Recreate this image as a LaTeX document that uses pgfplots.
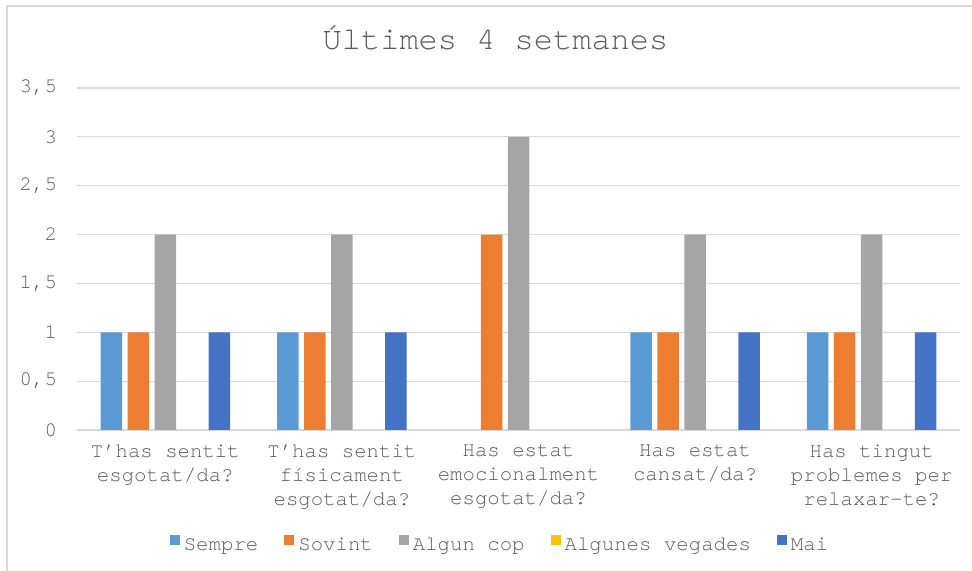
\documentclass[border=0pt]{standalone}
\usepackage{fontspec}
\setmainfont{TeX Gyre Cursor}
\usepackage{pgfplots}
\pgfplotsset{compat=1.18}
\definecolor{cA}{HTML}{5B9BD5}
\definecolor{cB}{HTML}{ED7D31}
\definecolor{cC}{HTML}{A5A5A5}
\definecolor{cD}{HTML}{FFC000}
\definecolor{cE}{HTML}{4472C4}
\definecolor{gridc}{HTML}{D9D9D9}
\definecolor{textc}{HTML}{595959}
\pgfplotsset{sq/.style={legend image code/.code={\fill[##1] (0pt,0.4pt) rectangle (5pt,5.4pt);}}}
\begin{document}
\begin{tikzpicture}
\begin{axis}[
  name=ax,
  scale only axis, width=441.5pt, height=171pt,
  ybar=2.75pt, bar width=10.75pt,
  xmin=-0.5, xmax=4.5, ymin=0, ymax=3.5,
  xtick={0,1,2,3,4},
  xticklabels={{T’has sentit\\esgotat/da?},{T’has sentit\\físicament\\esgotat/da?},{Has estat\\emocionalment\\esgotat/da?},{Has estat\\cansat/da?},{Has tingut\\problemes per\\relaxar-te?}},
  ytick={0,0.5,1,1.5,2,2.5,3,3.5},
  yticklabels={0,{0,5},1,{1,5},2,{2,5},3,{3,5}},
  major tick length=0pt,
  ymajorgrids, grid style={draw=gridc, line width=0.6pt},
  axis x line*=bottom, axis y line*=left,
  x axis line style={draw=gridc, line width=0.6pt, -},
  y axis line style={draw=none},
  tick label style={font=\fontsize{10.35}{12}\selectfont, text=textc},
  xticklabel style={align=center, anchor=north, yshift=-3.7pt},
  yticklabel style={anchor=east, xshift=-6.5pt},
  legend columns=5,
  legend style={at={(0.4785,-0.336)}, anchor=center, draw=none, fill=none,
    font=\fontsize{10.35}{12}\selectfont, text=textc,
    nodes={inner sep=0.5pt},
    /tikz/every odd column/.append style={column sep=1.5pt},
    /tikz/every even column/.append style={column sep=12.5pt}},
  clip=false,
]
\addplot[fill=cA, draw=none, sq] coordinates {(0,1) (1,1) (3,1) (4,1)};
\addplot[fill=cB, draw=none, sq] coordinates {(0,1) (1,1) (2,2) (3,1) (4,1)};
\addplot[fill=cC, draw=none, sq] coordinates {(0,2) (1,2) (2,3) (3,2) (4,2)};
\addplot[fill=none, draw=none, legend image code/.code={\fill[cD] (0pt,0.4pt) rectangle (5pt,5.4pt);}] coordinates {(0,0) (1,0) (2,0) (3,0) (4,0)};
\addplot[fill=cE, draw=none, sq] coordinates {(0,1) (1,1) (3,1) (4,1)};
\legend{Sempre,Sovint,Algun cop,Algunes vegades,Mai}
\end{axis}
\pgfresetboundingbox
\begin{scope}[shift={(ax.south west)}]
\path[use as bounding box] (-38.5pt,-70.5pt) rectangle (447.5pt,215pt);
\draw[gridc, line width=0.75pt] (-35pt,-70.5pt) -- (-35pt,212pt) -- (447.5pt,212pt);
\node[anchor=base, font=\fontsize{16}{19}\selectfont, text=textc, inner sep=0pt] at (209.25pt,190pt) {Últimes 4 setmanes};
\end{scope}
\end{tikzpicture}
\end{document}
